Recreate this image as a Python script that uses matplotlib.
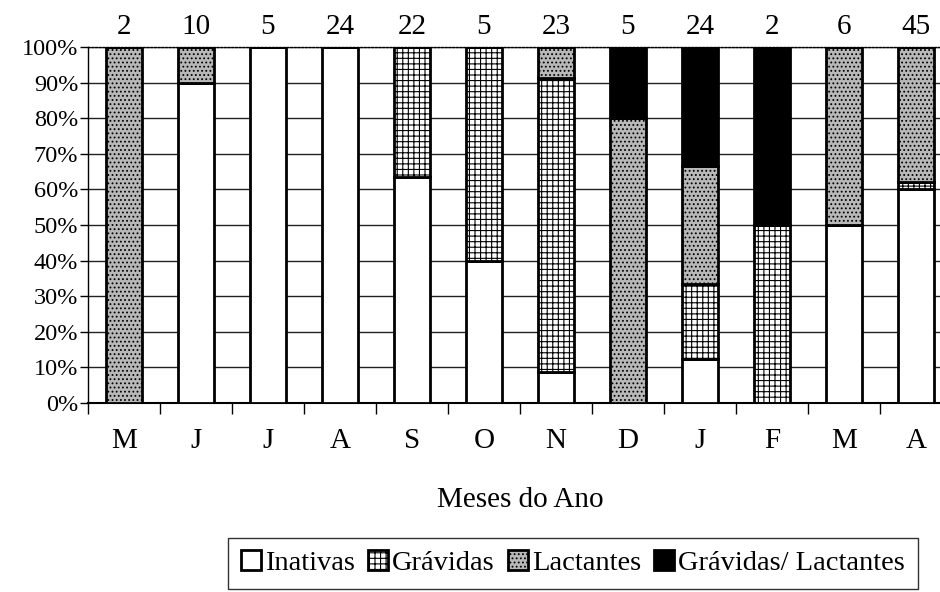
import matplotlib
matplotlib.use("Agg")
import matplotlib.pyplot as plt
import numpy as np

plt.rcParams['font.family'] = ['Liberation Serif', 'DejaVu Serif']
plt.rcParams['hatch.linewidth'] = 0.8

months = ["M", "J", "J", "A", "S", "O", "N", "D", "J", "F", "M", "A"]
totals = [2, 10, 5, 24, 22, 5, 23, 5, 24, 2, 6, 45]
inativas = [0, 90, 100, 100, 63.6, 40, 8.7, 0, 12.5, 0, 50, 60]
gravidas = [0, 0, 0, 0, 36.4, 60, 82.6, 0, 20.8, 50, 0, 2.2]
lactantes = [100, 10, 0, 0, 0, 0, 8.7, 80, 33.4, 0, 50, 37.8]
grav_lact = [0, 0, 0, 0, 0, 0, 0, 20, 33.3, 50, 0, 0]
series_names = ["Inativas", "Grávidas", "Lactantes", "Grávidas/ Lactantes"]

fig = plt.figure(figsize=(9.4, 5.92), dpi=100)
ax = fig.add_axes([88/940, 1-403/592, 864/940, 356/592])

x = np.arange(len(months))
styles = [
    dict(facecolor="white", hatch=None),
    dict(facecolor="white", hatch="+++"),
    dict(facecolor="#b8b8b8", hatch="...."),
    dict(facecolor="black", hatch=None),
]
bottom = np.zeros(len(months))
handles = []
for vals, name, st in zip([inativas, gravidas, lactantes, grav_lact], series_names, styles):
    vals = np.array(vals, dtype=float)
    b = ax.bar(x, vals, 0.5, bottom=bottom, facecolor=st["facecolor"], hatch=st["hatch"],
               edgecolor="black", linewidth=2, zorder=3, label=name)
    handles.append(b)
    bottom += vals

ax.set_xlim(-0.5, len(months) - 0.5)
ax.set_ylim(0, 100)
ax.set_yticks(np.arange(0, 101, 10))
ax.set_yticklabels([f"{v}%" for v in range(0, 101, 10)], fontsize=17.5)
ax.yaxis.grid(True, color="#222222", linewidth=1, zorder=0)
ax.set_axisbelow(True)

ax.set_xticks(np.arange(-0.5, len(months) - 0.4, 1))
ax.set_xticklabels([])
ax.set_xticks(x, minor=True)
ax.set_xticklabels(months, minor=True, fontsize=21)
ax.tick_params(axis="x", which="major", length=8, direction="out", width=1)
ax.tick_params(axis="x", which="minor", length=0, pad=18)
ax.tick_params(axis="y", length=6, direction="out", width=1, pad=1)

for sp in ["top", "right"]:
    ax.spines[sp].set_linestyle(":")
    ax.spines[sp].set_linewidth(1)
ax.spines["left"].set_linewidth(1)
ax.spines["bottom"].set_linewidth(1.5)

for xi, t in zip(x, totals):
    ax.text(xi, 102.0, str(t), ha="center", va="bottom", fontsize=21)

ax.set_xlabel("Meses do Ano", fontsize=21, labelpad=24)

leg = fig.legend(handles=handles, labels=series_names, loc="lower center",
                 bbox_to_anchor=(573/940, 0.0), ncol=4, fontsize=20.5, frameon=True,
                 fancybox=False, edgecolor="black", handlelength=0.7, handleheight=0.7,
                 handletextpad=0.15, columnspacing=0.45, borderpad=0.45,
                 borderaxespad=0.1)
leg.get_frame().set_linewidth(1)

fig.savefig("out.png", dpi=100)
